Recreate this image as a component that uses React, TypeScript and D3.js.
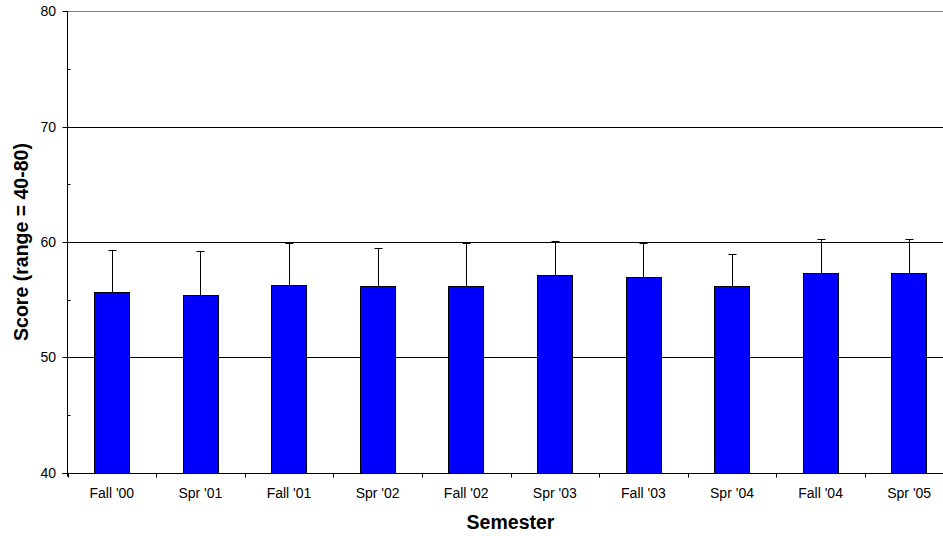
import React from "react";
import * as d3 from "d3";

const categories = ["Fall '00", "Spr '01", "Fall '01", "Spr '02", "Fall '02", "Spr '03", "Fall '03", "Spr '04", "Fall '04", "Spr '05"];
const means = [55.7, 55.4, 56.3, 56.2, 56.2, 57.1, 57.0, 56.2, 57.3, 57.3];
const errorTops = [59.3, 59.2, 59.9, 59.5, 59.9, 60.1, 59.9, 59.0, 60.3, 60.3];
const majorTicks = [40, 50, 60, 70, 80];
const minorTicks = [45, 55, 65, 75];
const gridValues = [50, 60, 70];

const W = 943;
const H = 536;
const left = 67.5;
const right = 953.5;
const top = 11.3;
const bottom = 472.7;

export default function App() {
  const x = d3.scaleBand<string>().domain(categories).range([left, right]).paddingInner(0.6).paddingOuter(0.3);
  const y = d3.scaleLinear().domain([40, 80]).range([bottom, top]);
  const step = x.step();
  const bw = x.bandwidth();
  const font = "'Liberation Sans', Arial, sans-serif";
  const snap = (v: number) => Math.round(v) + 0.5;

  return (
    <svg width={W} height={H} viewBox={`0 0 ${W} ${H}`} style={{ position: "absolute", left: 0, top: 0, background: "#fff" }} fontFamily={font}>
      <rect x={0} y={0} width={W} height={H} fill="#fff" />
      {/* top line at 80 */}
      <line x1={left} x2={right} y1={snap(y(80))} y2={snap(y(80))} stroke="#808080" strokeWidth={1} />
      {gridValues.map((v) => (
        <line key={v} x1={left} x2={right} y1={snap(y(v))} y2={snap(y(v))} stroke="#000" strokeWidth={1} />
      ))}
      {/* bars */}
      {categories.map((c, i) => {
        const x0 = Math.round(x(c)!) + 0.5;
        const w = Math.round(bw);
        const yt = Math.round(y(means[i])) + 0.5;
        const yb = Math.round(y(40)) + 0.5;
        return (
          <rect key={c} x={x0} y={yt} width={w} height={yb - yt} fill="#0000FF" stroke="#000" strokeWidth={1} />
        );
      })}
      {/* error bars */}
      {categories.map((c, i) => {
        const cx = Math.round(x(c)! + bw / 2) + 0.5;
        const yt = Math.round(y(errorTops[i])) + 0.5;
        const yb = Math.round(y(means[i]));
        return (
          <g key={c} stroke="#000" strokeWidth={1}>
            <line x1={cx} x2={cx} y1={yt} y2={yb} />
            <line x1={cx - 4} x2={cx + 4} y1={yt} y2={yt} />
          </g>
        );
      })}
      {/* y axis */}
      <line x1={left} x2={left} y1={y(80)} y2={y(40) + 4} stroke="#000" strokeWidth={1} />
      {majorTicks.map((v) => (
        <g key={v}>
          <line x1={left - 5} x2={left} y1={snap(y(v))} y2={snap(y(v))} stroke="#000" strokeWidth={1} />
          <text x={56} y={y(v)} dy="0.35em" textAnchor="end" fontSize={14} fill="#000">{v}</text>
        </g>
      ))}
      {minorTicks.map((v) => (
        <line key={v} x1={left} x2={left + 3} y1={snap(y(v))} y2={snap(y(v))} stroke="#000" strokeWidth={1} />
      ))}
      {/* x axis */}
      <line x1={left - 5} x2={right} y1={snap(y(40))} y2={snap(y(40))} stroke="#000" strokeWidth={1} />
      {d3.range(categories.length + 1).map((k) => {
        const tx = Math.round(left + k * step) + 0.5;
        return <line key={k} x1={tx} x2={tx} y1={snap(y(40))} y2={snap(y(40)) + 4} stroke="#000" strokeWidth={1} />;
      })}
      {categories.map((c) => (
        <text key={c} x={x(c)! + bw / 2} y={497.5} textAnchor="middle" fontSize={14} fill="#000">{c}</text>
      ))}
      <text x={(left + right) / 2} y={529} textAnchor="middle" fontSize={19.5} fontWeight="bold" fill="#000">Semester</text>
      <text transform={`translate(27.5, ${(top + bottom) / 2}) rotate(-90)`} textAnchor="middle" fontSize={19.5} fontWeight="bold" fill="#000">Score (range = 40-80)</text>
    </svg>
  );
}
